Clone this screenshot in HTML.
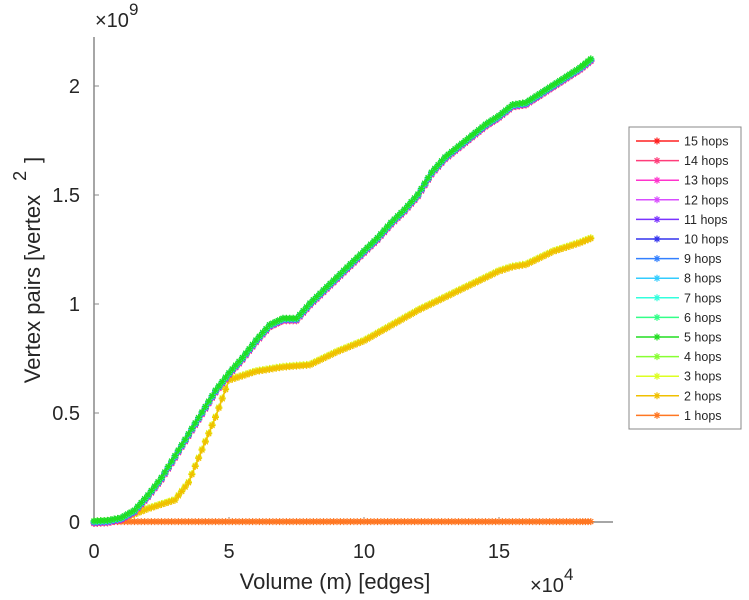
<!DOCTYPE html>
<html><head><meta charset="utf-8"><style>
body{margin:0;background:#fff;}
svg{display:block;font-family:"Liberation Sans",sans-serif;}
</style></head><body>
<svg id="chart" width="749" height="600"></svg>
<script>
const xs = [0,0.5,1,1.5,2,2.5,3,3.5,4,4.5,5,5.5,6,6.5,7,7.5,8,8.5,9,9.5,10,10.5,11,11.5,12,12.5,13,13.5,14,14.5,15,15.5,16,16.5,17,17.5,18,18.4];
const bigHops = [0,0.003,0.015,0.05,0.12,0.2,0.3,0.4,0.5,0.6,0.68,0.75,0.83,0.9,0.93,0.93,1.0,1.06,1.12,1.18,1.24,1.3,1.37,1.43,1.5,1.6,1.67,1.72,1.77,1.82,1.86,1.91,1.92,1.96,2.0,2.04,2.08,2.12];
const twoHops = [0,0.003,0.012,0.035,0.06,0.08,0.1,0.18,0.33,0.48,0.65,0.67,0.69,0.7,0.71,0.715,0.72,0.75,0.78,0.805,0.83,0.865,0.9,0.935,0.97,1.0,1.03,1.06,1.09,1.12,1.15,1.17,1.18,1.21,1.24,1.26,1.28,1.3];
const oneHop = xs.map(()=>0.002);
const labels = ["15 hops","14 hops","13 hops","12 hops","11 hops","10 hops","9 hops","8 hops","7 hops","6 hops","5 hops","4 hops","3 hops","2 hops","1 hops"];
const colors = ["#ff2020","#ff3d7a","#ff33cc","#d94dff","#7a33ff","#3333ee","#3380ff","#33ccff","#33ffdd","#33ff88","#22dd22","#88ff33","#ddff22","#f0c000","#ff7722"];
const xTicks=[0,5,10,15], yTicks=[0,0.5,1,1.5,2], yTickLabels=["0","0.5","1","1.5","2"];
const X0=94,Y0=522,PX=27,PY=218;
const sx=v=>X0+v*PX, sy=v=>Y0-v*PY;
const NS="http://www.w3.org/2000/svg", svg=document.getElementById('chart');
function el(t,a,p){const e=document.createElementNS(NS,t);for(const k in a)e.setAttribute(k,a[k]);(p||svg).appendChild(e);return e;}
function star(g,x,y,c,s){el('path',{d:`M${x-s},${y}H${x+s}M${x},${y-s}V${y+s}M${x-s*.7},${y-s*.7}L${x+s*.7},${y+s*.7}M${x-s*.7},${y+s*.7}L${x+s*.7},${y-s*.7}`,stroke:c,'stroke-width':1.2,fill:'none'},g);}
const ax=el('g',{});
el('line',{x1:X0,y1:37,x2:X0,y2:Y0,stroke:'#888','stroke-width':1.5},ax);
el('line',{x1:X0,y1:Y0,x2:613,y2:Y0,stroke:'#888','stroke-width':1.5},ax);
xTicks.forEach(t=>{el('line',{x1:sx(t),y1:Y0,x2:sx(t),y2:Y0-5,stroke:'#888'},ax);const tx=el('text',{x:sx(t),y:Y0+36,'text-anchor':'middle','font-size':20,fill:'#262626'},ax);tx.textContent=t;});
yTicks.forEach((t,i)=>{el('line',{x1:X0,y1:sy(t),x2:X0+5,y2:sy(t),stroke:'#888'},ax);const ty=el('text',{x:X0-14,y:sy(t)+7,'text-anchor':'end','font-size':20,fill:'#262626'},ax);ty.textContent=yTickLabels[i];});
const xe=el('text',{x:530,y:592,'font-size':20,fill:'#262626'});xe.innerHTML='×10<tspan dy="-12" font-size="17">4</tspan>';
const ye=el('text',{x:95,y:27,'font-size':20,fill:'#262626'});ye.innerHTML='×10<tspan dy="-12" font-size="17">9</tspan>';
const xt=el('text',{x:335,y:589,'text-anchor':'middle','font-size':22,fill:'#262626'});xt.textContent='Volume (m) [edges]';
const yt=el('text',{x:0,y:0,'text-anchor':'middle','font-size':22,fill:'#262626',transform:'translate(40,270) rotate(-90)'});yt.innerHTML='Vertex pairs [vertex<tspan dy="-14" dx="14" font-size="18">2</tspan><tspan dy="14" dx="8">]</tspan>';
function series(vals,c,off,name){const g=el('g',{});
el('polyline',{points:xs.map((x,i)=>`${sx(x)},${sy(vals[i])+off}`).join(' '),fill:'none',stroke:c,'stroke-width':1.5},g);
for(let i=0;i<xs.length-1;i++){for(let k=0;k<4;k++){const f=k/4;const x=sx(xs[i])+(sx(xs[i+1])-sx(xs[i]))*f,y=sy(vals[i])+(sy(vals[i+1])-sy(vals[i]))*f+off;star(g,x,y,c,3.5);}}
star(g,sx(xs[xs.length-1]),sy(vals[vals.length-1])+off,c,3.5);}
series(oneHop,colors[14],0,'series-1-hops');
series(twoHops,colors[12],-1,'series-3-hops');
series(twoHops,colors[13],0,'series-2-hops');
series(bigHops,colors[11],1,'series-4-hops');
for(let h=15;h>=5;h--){series(bigHops,colors[15-h],(h-9)*0.25,'series-'+h+'-hops');}
const lg=el('g',{});
el('rect',{x:629,y:127,width:112,height:302,fill:'#fff',stroke:'#888','stroke-width':1},lg);
labels.forEach((l,i)=>{const y=141+i*19.6;const e=el('g',{},lg);
el('line',{x1:636,y1:y,x2:679,y2:y,stroke:colors[i],'stroke-width':1.5},e);star(e,657,y,colors[i],3.5);
const t=el('text',{x:684,y:y+4.5,'font-size':12.5,fill:'#262626'},e);t.textContent=l;});
</script>
</body></html>
